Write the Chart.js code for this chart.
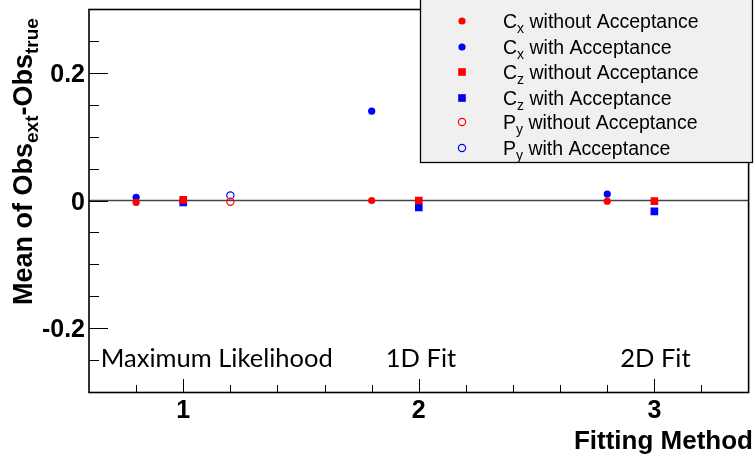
<!DOCTYPE html>
<html>
<head>
<meta charset="utf-8">
<script src="https://cdn.jsdelivr.net/npm/chart.js@4.4.0/dist/chart.umd.min.js"></script>
<style>
  html, body { margin: 0; padding: 0; background: #fff; }
  #wrap { width: 754px; height: 455px; }
</style>
</head>
<body>
<div id="wrap"><canvas id="chart" width="754" height="455"></canvas></div>
<script>
// axis setup
const xRange = [0.6, 3.4];
const yRange = [-0.3, 0.3];
const xMajorTicks = [1, 2, 3];
const xMinorTicks = [0.8, 1.2, 1.4, 1.6, 1.8, 2.2, 2.4, 2.6, 2.8, 3.2];
const yMajorTicks = [-0.2, 0, 0.2];
const yMinorTicks = [-0.25, -0.15, -0.1, -0.05, 0.05, 0.1, 0.15, 0.25];

// x positions of each observable per method
const cxX = [0.8, 1.8, 2.8];
const czX = [1.0, 2.0, 3.0];
const pyX = [1.2];

// mean of Obs_ext - Obs_true
const cxWithout = [-0.003, 0.0, -0.001];
const cxWith = [0.005, 0.14, 0.01];
const czWithout = [0.001, 0.0, -0.001];
const czWith = [-0.003, -0.011, -0.017];
const pyWithout = [-0.002];
const pyWith = [0.008];

const methodLabels = ["Maximum Likelihood", "1D Fit", "2D Fit"];

const RED = "#ff0000";
const BLUE = "#0000ff";
const HELV = "'Liberation Sans', Arial, sans-serif";

function pts(xs, ys) {
  return xs.map((x, i) => ({ x: x, y: ys[i] }));
}

function series(label, xs, ys, color, style, filled, radius) {
  return {
    label: label,
    data: pts(xs, ys),
    pointStyle: style,
    pointRadius: radius,
    pointBackgroundColor: filled ? color : "rgba(0,0,0,0)",
    pointBorderColor: color,
    pointBorderWidth: filled ? 0 : 1.2,
    showLine: false,
  };
}

// draws text like "C_x rest" with a subscript
function drawSub(ctx, x, y, main, sub, rest, size, subSize, shift, bold) {
  const w = bold ? "bold " : "";
  ctx.font = w + size + "px " + HELV;
  ctx.fillText(main, x, y);
  x += ctx.measureText(main).width;
  ctx.font = w + subSize + "px " + HELV;
  ctx.fillText(sub, x, y + shift);
  x += ctx.measureText(sub).width;
  ctx.font = w + size + "px " + HELV;
  ctx.fillText(rest, x, y);
  return x + ctx.measureText(rest).width;
}

const rootFrame = {
  id: "rootFrame",
  beforeDatasetsDraw(chart) {
    const { ctx, chartArea, scales } = chart;
    const y0 = scales.y.getPixelForValue(0);
    ctx.save();
    ctx.strokeStyle = "#444";
    ctx.lineWidth = 1.6;
    ctx.beginPath();
    ctx.moveTo(chartArea.left, y0);
    ctx.lineTo(chartArea.right, y0);
    ctx.stroke();
    ctx.restore();
  },
  afterDraw(chart) {
    const { ctx, chartArea: a, scales } = chart;
    const xs = scales.x, ys = scales.y;
    ctx.save();

    // ticks, pointing into the frame
    ctx.strokeStyle = "#000";
    ctx.lineWidth = 1;
    ctx.beginPath();
    xMajorTicks.forEach((v) => {
      const px = Math.round(xs.getPixelForValue(v)) + 0.5;
      ctx.moveTo(px, a.bottom); ctx.lineTo(px, a.bottom - 13);
    });
    xMinorTicks.forEach((v) => {
      const px = Math.round(xs.getPixelForValue(v)) + 0.5;
      ctx.moveTo(px, a.bottom); ctx.lineTo(px, a.bottom - 7);
    });
    yMajorTicks.forEach((v) => {
      const py = Math.round(ys.getPixelForValue(v)) + 0.5;
      ctx.moveTo(a.left, py); ctx.lineTo(a.left + 19, py);
    });
    yMinorTicks.forEach((v) => {
      const py = Math.round(ys.getPixelForValue(v)) + 0.5;
      ctx.moveTo(a.left, py); ctx.lineTo(a.left + 10, py);
    });
    ctx.stroke();

    // frame
    ctx.lineWidth = 1.6;
    ctx.strokeRect(a.left, a.top + 0.5, a.right - a.left, a.bottom - a.top);

    // tick labels
    ctx.fillStyle = "#000";
    ctx.font = "bold 25px " + HELV;
    ctx.textAlign = "center";
    ctx.textBaseline = "alphabetic";
    xMajorTicks.forEach((v) => {
      ctx.fillText(String(v), xs.getPixelForValue(v), 418);
    });
    ctx.textAlign = "right";
    yMajorTicks.forEach((v) => {
      ctx.fillText(String(v), a.left - 4, ys.getPixelForValue(v) + 9);
    });

    // x title
    ctx.font = "bold 26px " + HELV;
    ctx.textAlign = "right";
    ctx.fillText("Fitting Method", 753, 449);

    // y title, rotated
    ctx.save();
    ctx.translate(32, 305);
    ctx.rotate(-Math.PI / 2);
    ctx.textAlign = "left";
    let tx = drawSub(ctx, 0, 0, "Mean of Obs", "ext", "", 27, 19, 6, true);
    drawSub(ctx, tx, 0, "-Obs", "true", "", 27, 19, 6, true);
    ctx.restore();

    // method labels
    ctx.font = "25.5px Lato, 'Open Sans', sans-serif";
    ctx.textAlign = "left";
    const labelAt = [0.65, 1.86, 2.855];
    methodLabels.forEach((t, i) => {
      ctx.fillText(t, xs.getPixelForValue(labelAt[i]), ys.getPixelForValue(-0.261));
    });

    // legend box
    const lx = 420.5, ly = -1, lw = 332, lh = 163.5;
    ctx.fillStyle = "#f0f0f0";
    ctx.fillRect(lx, ly, lw, lh);
    ctx.strokeStyle = "#000";
    ctx.lineWidth = 1.3;
    ctx.strokeRect(lx, ly, lw, lh);

    const rowY = [21, 47, 72, 98, 122, 148];
    chart.data.datasets.forEach((ds, i) => {
      const cy = rowY[i];
      ctx.fillStyle = ds.pointBackgroundColor;
      ctx.strokeStyle = ds.pointBorderColor;
      ctx.lineWidth = ds.pointBorderWidth || 1;
      ctx.beginPath();
      const r = ds.pointRadius;
      if (ds.pointStyle === "rect") {
        const s = r * Math.SQRT1_2;
        ctx.rect(462 - s, cy - s, 2 * s, 2 * s);
      } else {
        ctx.arc(462, cy, r, 0, Math.PI * 2);
      }
      if (ds.pointBorderWidth) ctx.stroke(); else ctx.fill();

      const m = ds.label.match(/^(\w)_(\w)(.*)$/);
      ctx.fillStyle = "#000";
      ctx.textAlign = "left";
      drawSub(ctx, 503, cy + 7, m[1], m[2], m[3], 19.5, 14, 5, false);
    });

    ctx.restore();
  }
};

new Chart(document.getElementById("chart"), {
  type: "scatter",
  data: {
    datasets: [
      series("C_x without Acceptance", cxX, cxWithout, RED, "circle", true, 3.6),
      series("C_x with Acceptance", cxX, cxWith, BLUE, "circle", true, 3.6),
      series("C_z without Acceptance", czX, czWithout, RED, "rect", true, 5.4),
      series("C_z with Acceptance", czX, czWith, BLUE, "rect", true, 5.4),
      series("P_y without Acceptance", pyX, pyWithout, RED, "circle", false, 3.6),
      series("P_y with Acceptance", pyX, pyWith, BLUE, "circle", false, 3.6),
    ],
  },
  options: {
    responsive: false,
    animation: false,
    layout: { padding: { left: 89, right: 1, top: 9, bottom: 63 } },
    scales: {
      x: { type: "linear", min: xRange[0], max: xRange[1], display: false },
      y: { type: "linear", min: yRange[0], max: yRange[1], display: false },
    },
    plugins: {
      legend: { display: false },
      tooltip: { enabled: false },
    },
  },
  plugins: [rootFrame],
});
</script>
</body>
</html>
